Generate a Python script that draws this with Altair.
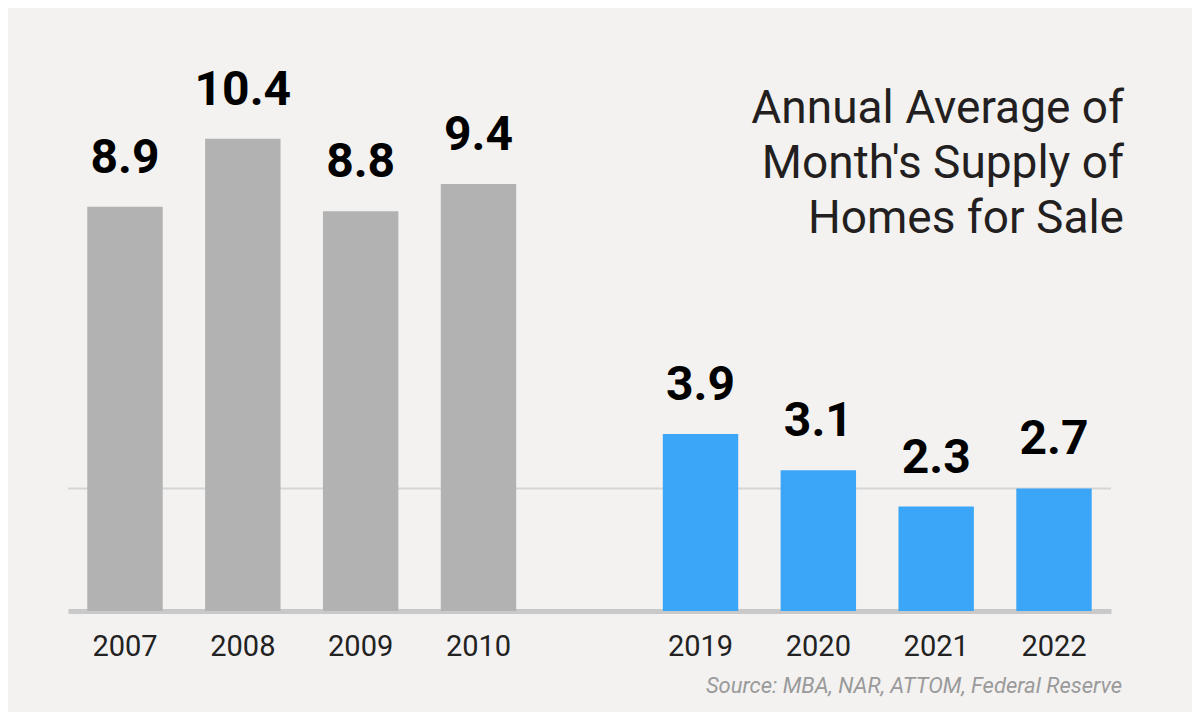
import altair as alt
import pandas as pd

years = ["2007", "2008", "2009", "2010", "2019", "2020", "2021", "2022"]
supply = [8.9, 10.4, 8.8, 9.4, 3.9, 3.1, 2.3, 2.7]
period = ["Then", "Then", "Then", "Then", "Now", "Now", "Now", "Now"]
ref_line = [2.7]

title_lines = ["Annual Average of", "Month's Supply of", "Homes for Sale"]
source_text = "Source: MBA, NAR, ATTOM, Federal Reserve"

# position of each year inside its period group (derived from list order)
slot = []
counts = {}
for p in period:
    slot.append(counts.get(p, 0))
    counts[p] = counts.get(p, 0) + 1

df = pd.DataFrame({"year": years, "supply": supply, "period": period, "slot": slot})
ref_df = pd.DataFrame({"v": ref_line})

W, H = 1043, 545
FONT = "Roboto"

x_scale = alt.Scale(domain=["Then", "Now"], paddingInner=0.1877, paddingOuter=0)
off_scale = alt.Scale(domain=[0, 1, 2, 3], paddingInner=0.36, paddingOuter=0.1637)
y_scale = alt.Scale(domain=[0, 12], nice=False)

x_enc = alt.X(
    "period:N",
    scale=x_scale,
    sort=["Then", "Now"],
    axis=alt.Axis(
        title=None,
        labels=False,
        ticks=False,
        tickSize=0,
        domainColor="#c9c9c9",
        domainWidth=5,
        grid=False,
    ),
)
off_enc = alt.XOffset("slot:O", scale=off_scale)

rule = alt.Chart(ref_df).mark_rule(color="#d5d5d5", strokeWidth=2).encode(
    y=alt.Y("v:Q", scale=y_scale, axis=None)
)

bars = alt.Chart(df).mark_bar().encode(
    x=x_enc,
    xOffset=off_enc,
    y=alt.Y("supply:Q", scale=y_scale, axis=None),
    color=alt.Color(
        "period:N",
        scale=alt.Scale(domain=["Then", "Now"], range=["#b2b2b2", "#3ba6f7"]),
        legend=None,
    ),
)

labels = alt.Chart(df).mark_text(
    font=FONT, fontSize=48, fontWeight="bold", color="#000000",
    baseline="alphabetic", dy=-34,
).encode(
    x=alt.X("period:N", scale=x_scale, sort=["Then", "Now"]),
    xOffset=off_enc,
    y=alt.Y("supply:Q", scale=y_scale),
    text=alt.Text("supply:Q", format=".1f"),
)

year_labels = alt.Chart(df).mark_text(
    font=FONT, fontSize=29, color="#222222", baseline="top",
).encode(
    x=alt.X("period:N", scale=x_scale, sort=["Then", "Now"]),
    xOffset=off_enc,
    y=alt.value(H + 22),
    text="year:N",
)

title = alt.Chart(pd.DataFrame({"t": [title_lines]})).mark_text(
    font=FONT, fontSize=46, color="#231f20", align="right",
    baseline="alphabetic", lineHeight=55,
).encode(x=alt.value(1056), y=alt.value(57), text="t")

source = alt.Chart(pd.DataFrame({"t": [source_text]})).mark_text(
    font=FONT, fontSize=22, fontStyle="italic", color="#9a9a9a",
    align="right", baseline="alphabetic",
).encode(x=alt.value(1054), y=alt.value(627), text="t")

chart = (
    alt.layer(rule, bars, labels, year_labels, title, source)
    .properties(
        width=W,
        height=H,
        autosize=alt.AutoSizeParams(type="none"),
        padding={"left": 60, "top": 58, "right": 81, "bottom": 101},
        background="#f3f2f1",
    )
    .configure_view(stroke=None)
)

chart.save("out.html", embed_options={"renderer": "svg", "actions": False})
